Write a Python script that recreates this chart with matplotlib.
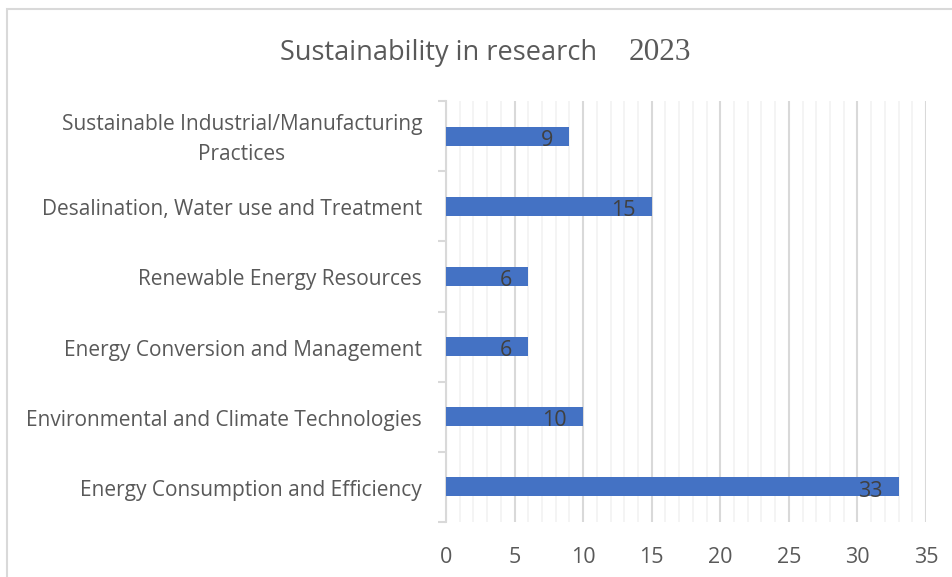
import matplotlib.pyplot as plt
import numpy as np
from matplotlib.patches import Rectangle

# data, bottom to top as drawn
categories = [
    'Energy Consumption and Efficiency',
    'Environmental and Climate Technologies',
    'Energy Conversion and Management',
    'Renewable Energy Resources',
    'Desalination, Water use and Treatment',
    'Sustainable Industrial/Manufacturing\nPractices',
]
counts = [33, 10, 6, 6, 15, 9]
x_ticks = [0, 5, 10, 15, 20, 25, 30, 35]

text_col = '#595959'
grid_col = '#d9d9d9'
bar_col = '#4472C4'

plt.rcParams['font.family'] = ['Open Sans', 'DejaVu Sans']

fig = plt.figure(figsize=(9.52, 5.77), dpi=100)
ax = fig.add_axes([446 / 952, 1 - 522 / 577, 480 / 952, 421 / 577])

y = np.arange(len(categories))
bars = ax.barh(y, counts, height=0.27, color=bar_col, zorder=3)

for b, v in zip(bars, counts):
    ax.text(b.get_width() - 1.2, b.get_y() + b.get_height() / 2 - 0.06, str(v),
            ha='right', va='center', fontsize=15.5, color='#404040', zorder=4)

ax.set_xlim(0, 35)
ax.set_ylim(-0.5, len(categories) - 0.5)
ax.set_xticks(x_ticks)
ax.set_xticks(np.arange(0, 36, 1), minor=True)
ax.grid(axis='x', which='minor', color='#f2f2f2', lw=1.2, zorder=0)
ax.grid(axis='x', which='major', color=grid_col, lw=1.5, zorder=1)
ax.tick_params(axis='x', which='both', length=0, labelsize=15.5,
               labelcolor=text_col, pad=18)

# category names drawn as text so the two-line one stays centred
ax.set_yticks(y)
ax.set_yticklabels([])
ax.tick_params(axis='y', which='major', length=0)
for yi, c in zip(y, categories):
    ax.text(-1.75, yi - 0.05, c, ha='right', va='center', fontsize=15,
            color=text_col, linespacing=1.6, multialignment='center',
            transform=ax.transData, clip_on=False)

# category boundary ticks on the left
ax.set_yticks(np.arange(-0.5, len(categories), 1), minor=True)
ax.tick_params(axis='y', which='minor', length=6, width=1.5, color=grid_col,
               direction='out')

for s in ['top', 'right', 'bottom']:
    ax.spines[s].set_visible(False)
ax.spines['left'].set_color(grid_col)
ax.spines['left'].set_linewidth(1.5)

fig.text(280 / 952, 1 - 53 / 577, 'Sustainability in research', fontsize=19.5,
         color=text_col, ha='left', va='center')
fig.text(629 / 952, 1 - 52 / 577, '2023', fontsize=22.5, color=text_col,
         family=['Liberation Serif'], ha='left', va='center')

fig.add_artist(Rectangle((7 / 952, -0.01), 1.0, 1 - 9 / 577 + 0.01,
                         transform=fig.transFigure, fill=False,
                         edgecolor=grid_col, lw=1.5))

fig.savefig('out.png', dpi=100)
